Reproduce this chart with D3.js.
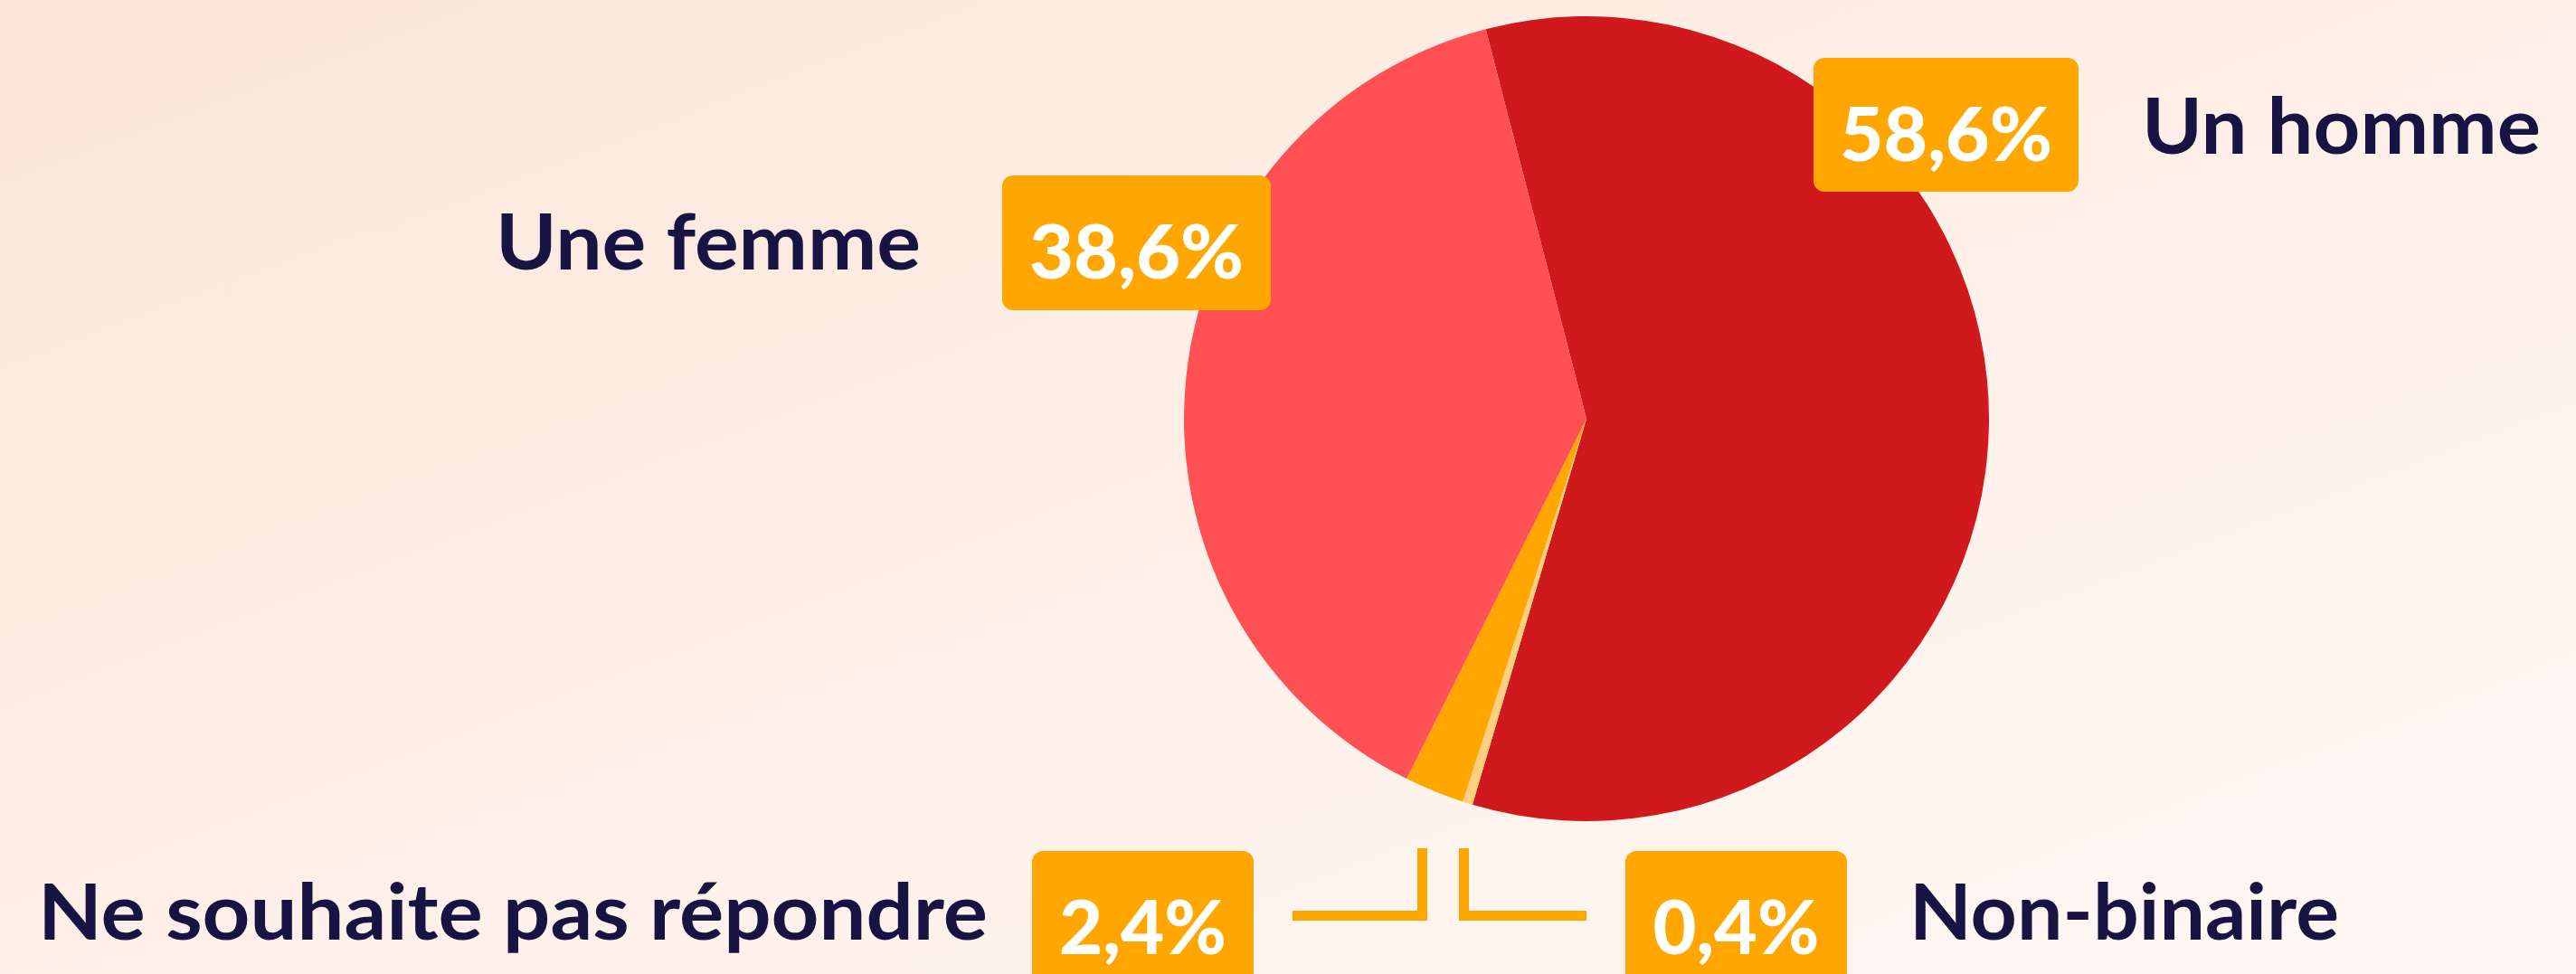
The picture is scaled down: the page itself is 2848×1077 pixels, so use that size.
<!DOCTYPE html>
<html>
<head>
<meta charset="utf-8">
<script src="https://cdn.jsdelivr.net/npm/d3@7"></script>
<style>
  html, body { margin: 0; padding: 0; overflow: hidden; }
  svg { display: block; }
</style>
</head>
<body>
<svg id="chart" width="2848" height="1077"></svg>
<script>
// ---- data ----
const categories = ["Un homme", "Non-binaire", "Ne souhaite pas répondre", "Une femme"];
const values = [58.6, 0.4, 2.4, 38.6];
const valueLabels = ["58,6%", "0,4%", "2,4%", "38,6%"];
const sliceColors = ["#D0191C", "#FFCF80", "#FFA600", "#FF5153"];

// ---- layout ----
const W = 2848, H = 1077;
const cx = 1754, cy = 463, R = 445;
const startDeg = -14.5;
const navy = "#171443";
const orange = "#FFA600";

const svg = d3.select("#chart");

// background gradient
const defs = svg.append("defs");
const grad = defs.append("linearGradient").attr("id", "bg")
  .attr("x1", "0").attr("y1", "0").attr("x2", "1").attr("y2", "1");
grad.append("stop").attr("offset", "0%").attr("stop-color", "#FCE5D9");
grad.append("stop").attr("offset", "55%").attr("stop-color", "#FEF1E9");
grad.append("stop").attr("offset", "100%").attr("stop-color", "#FFF8F4");
svg.append("rect").attr("width", W).attr("height", H).attr("fill", "url(#bg)");

// pie
const data = categories.map((c, i) => ({ cat: c, value: values[i], label: valueLabels[i], color: sliceColors[i] }));
const a0 = startDeg * Math.PI / 180;
const pie = d3.pie().sort(null).value(d => d.value).startAngle(a0).endAngle(a0 + 2 * Math.PI);
const arc = d3.arc().innerRadius(0).outerRadius(R);

svg.append("g").attr("transform", `translate(${cx},${cy})`)
  .selectAll("path").data(pie(data)).join("path")
  .attr("d", arc).attr("fill", d => d.data.color);

// connectors for small slices
const conn = svg.append("g").attr("fill", "none").attr("stroke", orange).attr("stroke-width", 11);
conn.append("path").attr("d", "M1429,1012.5 H1572.5 V938");
conn.append("path").attr("d", "M1618.5,938 V1012.5 H1754");

// label boxes (per category)
const layout = {
  "Un homme":                 { box: [2005, 64, 293, 148],  base: 178,  tlen: 235, name: { x: 2368, base: 170, len: 441 } },
  "Une femme":                { box: [1108, 194, 297, 149], base: 308,  tlen: 237, name: { x: 548,  base: 298, len: 470 } },
  "Ne souhaite pas répondre": { box: [1141, 941, 245, 149], base: 1055, tlen: 185, name: { x: 42,   base: 1039, len: 1050 } },
  "Non-binaire":              { box: [1797, 941, 245, 149], base: 1055, tlen: 184, name: { x: 2111, base: 1039, len: 475 } }
};

const lab = svg.append("g");
data.forEach(d => {
  const L = layout[d.cat];
  const [bx, by, bw, bh] = L.box;
  lab.append("rect").attr("x", bx).attr("y", by).attr("width", bw).attr("height", bh)
    .attr("rx", 12).attr("fill", orange);
  lab.append("text").attr("x", bx + bw / 2).attr("y", L.base)
    .attr("text-anchor", "middle")
    .attr("font-family", "Lato, 'Open Sans', sans-serif")
    .attr("font-weight", 900).attr("font-size", 81)
    .attr("fill", "#FFFFFF")
    .attr("textLength", L.tlen).attr("lengthAdjust", "spacingAndGlyphs")
    .text(d.label);
  lab.append("text").attr("x", L.name.x).attr("y", L.name.base)
    .attr("font-family", "Lato, 'Open Sans', sans-serif")
    .attr("font-weight", 700).attr("font-size", 86)
    .attr("fill", navy)
    .attr("textLength", L.name.len).attr("lengthAdjust", "spacingAndGlyphs")
    .text(d.cat);
});
</script>
</body>
</html>
